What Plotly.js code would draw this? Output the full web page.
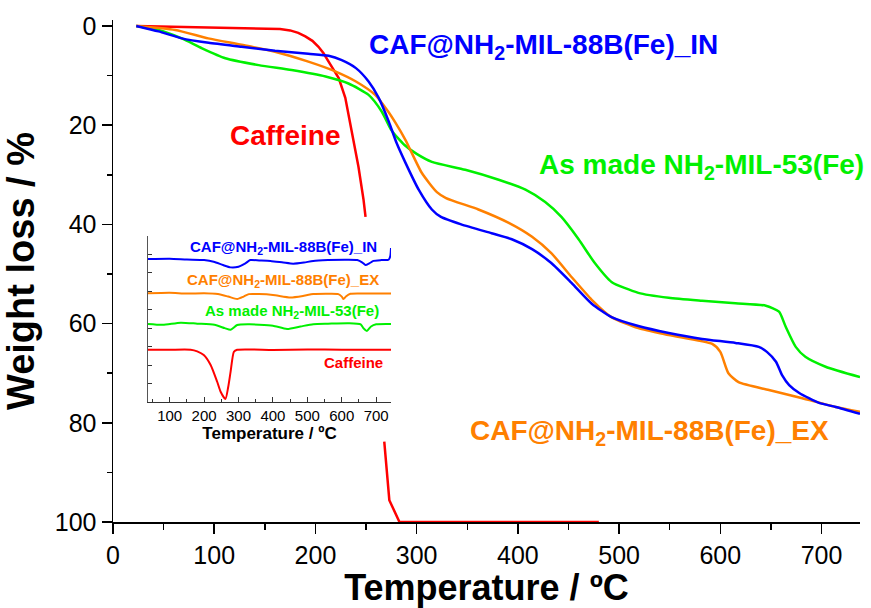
<!DOCTYPE html>
<html>
<head>
<meta charset="utf-8">
<script src="https://cdn.plot.ly/plotly-3.0.1.min.js"></script>
<style>
html,body{margin:0;padding:0;background:#fff;}
#chart{width:871px;height:608px;}
</style>
</head>
<body>
<div id="chart"></div>
<script>
// ---------- Main TGA data (Temperature / ºC vs Weight loss / %) ----------
const tIN = [23, 45, 68, 94.5, 127, 160, 193, 213, 226, 240, 252.5, 262.5, 272.5, 280, 289, 302, 315, 324, 344, 374, 394, 414, 433, 453, 473, 492.5, 519, 549, 582, 615, 638, 646, 655, 661, 668, 678, 697.5, 714, 738];
const wIN = [0, 1.1, 2.5, 3.4, 4.2, 5, 5.6, 6, 6.9, 8.5, 11.2, 14.5, 19.3, 23.5, 27.6, 33, 37, 38.5, 40, 41.8, 43, 45, 47.8, 51.8, 56, 58.7, 60.5, 61.9, 63.1, 63.9, 64.7, 65.7, 67.7, 70.4, 72.4, 74, 76, 76.8, 78.2];

const tEX = [23, 61.5, 94, 127, 160, 193, 220, 240, 259, 272, 279, 289, 305, 320, 329, 361, 391, 414, 433, 453, 473, 492.5, 519, 549, 592, 600, 608, 618, 648, 680, 714, 738];
const wEX = [0, 0.8, 2.5, 3.8, 5.2, 7.2, 9.2, 11.2, 13.9, 17.3, 19.5, 23, 29.6, 33.5, 34.7, 37, 39.7, 42.5, 45.8, 50.6, 55.2, 58.7, 60.9, 62.3, 64.1, 65.7, 70, 71.8, 73.4, 75, 76.8, 77.8];

const t53 = [23, 45, 68, 88, 111, 144, 176.5, 210, 232.6, 252.5, 265.6, 275, 288, 300, 315, 348, 381, 407.5, 427, 443, 460, 476, 492.5, 519, 549, 582, 615, 645, 658, 664.5, 674.5, 684, 704, 738];
const w53 = [0, 0.8, 2.5, 4.5, 6.5, 7.9, 8.9, 10.2, 11.6, 13.9, 17.3, 21, 24, 25.8, 27.4, 29, 31, 33, 35.5, 38.5, 43, 47.8, 51.6, 53.8, 54.8, 55.4, 55.9, 56.4, 57.6, 60.6, 64.7, 66.7, 68.7, 70.8];

// caffeine: the part behind the inset is not visible (null = gap)
const tCAF = [23, 94, 150, 165, 175, 183, 190, 197, 203, 208, 213, 218, 223, 229.5, 234.6, 242.5, 247.5, 249.5, 258, 268, 273, 283, 400, 480];
const wCAF = [0, 0.3, 0.4, 0.6, 0.9, 1.4, 2.1, 3.0, 4.2, 5.5, 7.2, 8.8, 10.5, 14.5, 20, 28.4, 35, 38.5, null, 83.8, 95.6, 100, 100, 100];

// ---------- Inset DSC data (arbitrary units, offset) ----------
const dIN_t = [37, 100, 150, 200, 228, 255, 277, 300, 320, 334, 360, 393, 430, 459, 490, 517, 560, 614, 645, 660, 669, 680, 692, 715, 736, 741, 743];
const dIN_v = [86.1, 86.3, 85.8, 85.5, 84.5, 82.5, 81.1, 81.5, 83.5, 85.5, 85.3, 85, 84, 83.3, 84, 85, 85.5, 85.7, 85.5, 84, 82.5, 83.5, 85, 85.5, 85.7, 88, 92.8];

const dEX_t = [37, 100, 150, 200, 240, 270, 296, 315, 330, 360, 400, 451, 490, 517, 560, 590, 600, 605, 612, 625, 680, 743];
const dEX_v = [65.5, 65.8, 65.3, 65.5, 65, 63.5, 62, 63.5, 65, 65, 64.5, 63, 64, 65, 65.2, 65, 63.5, 62, 63.5, 65.2, 65.3, 65.3];

const d53_t = [37, 80, 132, 180, 230, 260, 277, 296, 330, 360, 400, 441, 480, 517, 560, 620, 655, 663, 673, 685, 700, 743];
const d53_v = [47, 46.5, 47.8, 47.2, 46.5, 44.5, 43.5, 46.4, 46.8, 46.6, 46, 44, 45.5, 46.9, 47.2, 47.5, 46.8, 44.4, 42.8, 45.5, 46.8, 47];

const dCAF_t = [37, 100, 161, 180, 199, 219, 238, 248, 262, 270, 277, 286.6, 296, 400, 500, 600, 743];
const dCAF_v = [31.5, 31.5, 31.5, 30.5, 28.3, 22.3, 12.2, 6.2, 1.8, 9, 18.3, 30.3, 31.5, 31.4, 31.6, 31.5, 31.5];

// ---------- Labels / colors ----------
const labels = {
  IN: 'CAF@NH<sub>2</sub>-MIL-88B(Fe)_IN',
  EX: 'CAF@NH<sub>2</sub>-MIL-88B(Fe)_EX',
  M53: 'As made NH<sub>2</sub>-MIL-53(Fe)',
  CAF: 'Caffeine'
};
const xTickVals = [0, 100, 200, 300, 400, 500, 600, 700];
const yTickVals = [0, 20, 40, 60, 80, 100];
const insetTickVals = [100, 200, 300, 400, 500, 600, 700];

const C = {IN: '#0000ff', EX: '#ff8000', M53: '#00f000', CAF: '#ff0000'};
const FONT = 'Liberation Sans, Arial, Helvetica, sans-serif';

// plot-area geometry helpers (pixels -> paper)
const L = 113, R = 860, T = 20, B = 522;
const px = x => (x - L) / (R - L);
const py = y => (B - y) / (B - T);

function line(x, y, c, w, xa, ya) {
  return {x: x, y: y, type: 'scatter', mode: 'lines', xaxis: xa, yaxis: ya,
          line: {color: c, width: w, shape: 'spline', smoothing: 0.6},
          connectgaps: false, hoverinfo: 'skip', showlegend: false};
}

const data = [
  line(tCAF, wCAF, C.CAF, 2.5, 'x', 'y'),
  line(t53, w53, C.M53, 2.5, 'x', 'y'),
  line(tEX, wEX, C.EX, 2.5, 'x', 'y'),
  line(tIN, wIN, C.IN, 2.5, 'x', 'y'),
  line(dIN_t, dIN_v, C.IN, 2, 'x2', 'y2'),
  line(dEX_t, dEX_v, C.EX, 2, 'x2', 'y2'),
  line(d53_t, d53_v, C.M53, 2, 'x2', 'y2'),
  line(dCAF_t, dCAF_v, C.CAF, 2, 'x2', 'y2')
];
data[0].line.shape = 'linear';

function ann(text, x, y, color, size, xanchor) {
  return {text: text, x: x, y: y, xref: 'paper', yref: 'paper', showarrow: false,
          xanchor: xanchor || 'center', yanchor: 'middle',
          font: {family: FONT, size: size, color: color, weight: 'bold'}};
}

const layout = {
  width: 871, height: 608,
  margin: {l: L, r: 871 - R, t: T, b: 608 - B},
  paper_bgcolor: '#ffffff', plot_bgcolor: 'rgba(0,0,0,0)',
  font: {family: FONT, color: '#000'},
  xaxis: {
    range: [0, 738], tickvals: xTickVals, ticks: 'outside', ticklen: 10, tickwidth: 1.5,
    tickcolor: '#000', showline: true, linecolor: '#000', linewidth: 1.5,
    showgrid: false, zeroline: false, layer: 'below traces',
    minor: {tickvals: [50, 150, 250, 350, 450, 550, 650], ticks: 'outside', ticklen: 6, tickwidth: 1.5, tickcolor: '#000'},
    tickfont: {size: 25, family: FONT, color: '#000'},
    title: {text: 'Temperature / ºC', standoff: 7, font: {size: 36, family: FONT, weight: 'bold', color: '#000'}}
  },
  yaxis: {
    range: [100, -1.2], tickvals: yTickVals, ticks: 'outside', ticklen: 10, tickwidth: 1.5,
    tickcolor: '#000', showline: true, linecolor: '#000', linewidth: 1.5,
    showgrid: false, zeroline: false,
    minor: {tickvals: [10, 30, 50, 70, 90], ticks: 'outside', ticklen: 5, tickwidth: 1.5, tickcolor: '#000'},
    tickfont: {size: 25, family: FONT, color: '#000'},
    title: {text: 'Weight loss / %', standoff: 10, font: {size: 38, family: FONT, weight: 'bold', color: '#000'}}
  },
  xaxis2: {
    domain: [px(148), px(391)], anchor: 'y2', range: [37, 743],
    tickvals: insetTickVals, ticks: 'inside', ticklen: 5, tickwidth: 1, tickcolor: '#333',
    minor: {tickvals: [50, 150, 250, 350, 450, 550, 650], ticks: 'inside', ticklen: 3, tickwidth: 1, tickcolor: '#333'},
    showline: true, linecolor: '#333', linewidth: 1.2, showgrid: false, zeroline: false,
    tickfont: {size: 15, family: FONT, color: '#000'},
    title: {text: 'Temperature / ºC', standoff: 2, font: {size: 17, family: FONT, weight: 'bold', color: '#000'}}
  },
  yaxis2: {
    domain: [py(402), py(236)], anchor: 'x2', range: [0, 100],
    tick0: 0, dtick: 100 / 9, ticks: 'inside', ticklen: 4, tickwidth: 1, tickcolor: '#333',
    showticklabels: false, showline: true, linecolor: '#555', linewidth: 1.2,
    showgrid: false, zeroline: false
  },
  annotations: [
    ann(labels.IN, px(543), py(47), C.IN, 28),
    ann(labels.CAF, px(285), py(135), C.CAF, 28),
    ann(labels.M53, px(701), py(167), C.M53, 28),
    ann(labels.EX, px(649), py(433), C.EX, 28),
    ann(labels.IN, px(379), py(247), C.IN, 15, 'right'),
    ann(labels.EX, px(381), py(280), C.EX, 15, 'right'),
    ann(labels.M53, px(381), py(312), C.M53, 15, 'right'),
    ann(labels.CAF, px(385), py(362), C.CAF, 15, 'right')
  ]
};

Plotly.newPlot('chart', data, layout, {displayModeBar: false, staticPlot: true});
</script>
</body>
</html>
